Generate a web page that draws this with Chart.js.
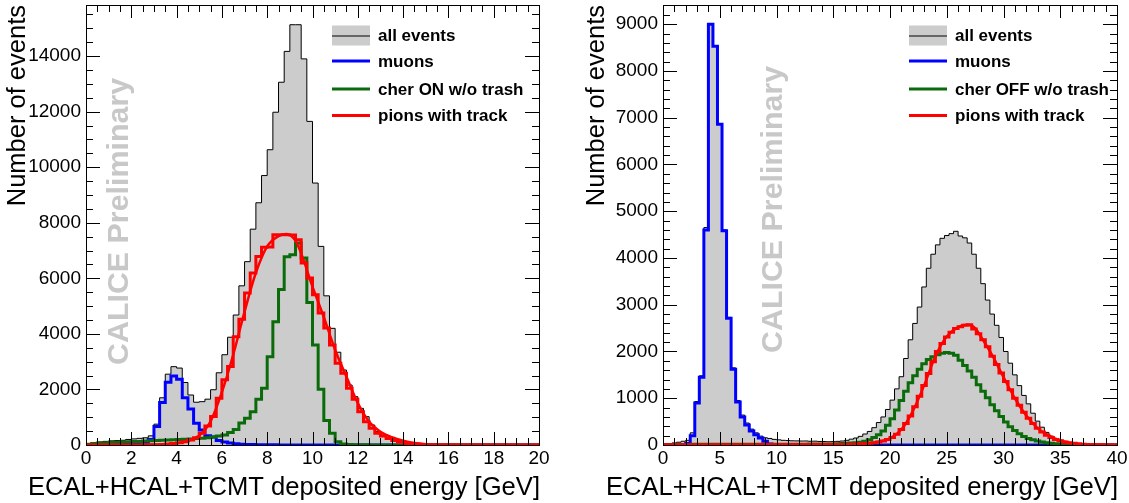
<!DOCTYPE html>
<html>
<head>
<meta charset="utf-8">
<title>ECAL+HCAL+TCMT deposited energy</title>
<script src="https://cdn.jsdelivr.net/npm/chart.js@4.4.1/dist/chart.umd.min.js"></script>
<style>
  html, body { margin: 0; padding: 0; background: #fff; }
  #wrap { position: relative; width: 1129px; height: 503px; }
  #left { position: absolute; left: 0; top: 0; }
  #right { position: absolute; left: 564px; top: 0; }
</style>
</head>
<body>
<div id="wrap">
  <canvas id="left" width="564" height="503"></canvas>
  <canvas id="right" width="565" height="503"></canvas>
</div>
<script>
// left panel: 0.25 GeV bins from 0 to 20 GeV
const binWidthLeft = 0.25;
const allLeft = [
  40, 70, 110, 130, 150, 160, 170, 200,
  220, 240, 260, 330, 750, 1700, 2550, 2820,
  2770, 2250, 1800, 1540, 1560, 1650, 1990, 2600,
  3250, 3880, 4680, 5730, 6600, 7770, 8720, 9700,
  10630, 11980, 13060, 14170, 15130, 15130, 13900, 11650,
  9430, 7150, 5370, 4200, 3340, 2700, 2160, 1740,
  1320, 1020, 720, 480, 360, 230, 160, 110,
  80, 60, 45, 35, 25, 20, 15, 10,
  8, 6, 5, 4, 3, 3, 2, 2,
  1, 1, 0, 0, 0, 0, 0, 0
];
const muonsLeft = [
  10, 15, 20, 25, 30, 30, 35, 40,
  45, 55, 80, 200, 670, 1530, 2260, 2480,
  2370, 1700, 1300, 780, 540, 330, 290, 160,
  110, 70, 45, 30, 20, 15, 10, 8,
  6, 5, 4, 3, 3, 2, 2, 1,
  1, 1, 0, 0, 0, 0, 0, 0,
  0, 0, 0, 0, 0, 0, 0, 0,
  0, 0, 0, 0, 0, 0, 0, 0,
  0, 0, 0, 0, 0, 0, 0, 0,
  0, 0, 0, 0, 0, 0, 0, 0
];
const cherOnLeft = [
  30, 50, 70, 80, 90, 100, 105, 115,
  125, 130, 140, 150, 160, 170, 180, 185,
  195, 205, 215, 230, 245, 260, 290, 320,
  360, 450, 560, 790, 960, 1200, 1650, 2040,
  3180, 4440, 5600, 6780, 6850, 7270, 6730, 5130,
  3600, 2010, 880, 420, 120, 40, 20, 10,
  8, 5, 3, 2, 1, 1, 0, 0,
  0, 0, 0, 0, 0, 0, 0, 0,
  0, 0, 0, 0, 0, 0, 0, 0,
  0, 0, 0, 0, 0, 0, 0, 0
];
const pionsLeft = [
  0, 0, 0, 0, 0, 0, 0, 0,
  2, 3, 5, 8, 10, 20, 35, 55,
  80, 120, 180, 260, 420, 680, 1030, 1680,
  2350, 2830, 3900, 4530, 5470, 6190, 6790, 7120,
  7130, 7570, 7570, 7570, 7560, 7390, 6550, 6010,
  5410, 4750, 4210, 3600, 2940, 2580, 2040, 1650,
  1200, 840, 600, 420, 320, 230, 160, 110,
  60, 40, 25, 15, 10, 6, 4, 3,
  2, 1, 1, 0, 0, 0, 0, 0,
  0, 0, 0, 0, 0, 0, 0, 0
];
const fitLeftE = [0, 2, 3, 3.5, 4, 4.5, 5, 5.5, 6, 6.5, 7, 7.5, 8, 8.5, 8.85, 9.25, 9.5, 10, 10.5, 11, 11.5, 12, 12.5, 13, 13.5, 14, 14.5, 15, 16, 17, 20];
const fitLeftN = [0, 2, 5, 20, 60, 140, 340, 850, 1900, 3250, 4800, 6200, 7150, 7520, 7600, 7350, 6900, 5700, 4600, 3420, 2460, 1510, 840, 480, 280, 150, 70, 30, 5, 0, 0];
const xTicksLeft = [0, 2, 4, 6, 8, 10, 12, 14, 16, 18, 20];
const yTicksLeft = [0, 2000, 4000, 6000, 8000, 10000, 12000, 14000];

// right panel: 0.4 GeV bins from 0 to 40 GeV
const binWidthRight = 0.4;
const allRight = [
  20, 30, 45, 60, 80, 100, 260, 930, 1480, 4650,
  9000, 8540, 6870, 4600, 2730, 1650, 950, 640, 470, 340,
  260, 190, 155, 140, 120, 110, 100, 95, 90, 88,
  85, 86, 80, 82, 76, 74, 70, 72, 78, 85,
  100, 125, 150, 185, 235, 290, 370, 480, 600, 760,
  960, 1200, 1460, 1850, 2250, 2600, 2950, 3380, 3780, 4080,
  4280, 4420, 4480, 4520, 4570, 4470, 4430, 4320, 4080, 3780,
  3450, 3100, 2800, 2560, 2300, 2000, 1750, 1500, 1270, 1060,
  880, 680, 510, 380, 270, 190, 130, 90, 65, 45,
  35, 25, 18, 12, 8, 5, 3, 2, 1, 0
];
const muonsRight = [
  0, 0, 0, 0, 5, 30, 200, 900, 1450, 4600,
  9000, 8530, 6860, 4580, 2710, 1620, 920, 600, 430, 300,
  220, 150, 80, 20, 5, 0, 0, 0, 0, 0,
  0, 0, 0, 0, 0, 0, 0, 0, 0, 0,
  0, 0, 0, 0, 0, 0, 0, 0, 0, 0,
  0, 0, 0, 0, 0, 0, 0, 0, 0, 0,
  0, 0, 0, 0, 0, 0, 0, 0, 0, 0,
  0, 0, 0, 0, 0, 0, 0, 0, 0, 0,
  0, 0, 0, 0, 0, 0, 0, 0, 0, 0,
  0, 0, 0, 0, 0, 0, 0, 0, 0, 0
];
const cherOffRight = [
  5, 8, 10, 10, 12, 12, 14, 15, 15, 16,
  16, 15, 16, 15, 14, 15, 16, 15, 14, 15,
  15, 14, 15, 16, 15, 15, 16, 17, 16, 17,
  18, 18, 19, 20, 20, 21, 22, 24, 26, 30,
  35, 42, 50, 60, 80, 110, 160, 220, 300, 420,
  560, 750, 950, 1150, 1330, 1480, 1620, 1740, 1830, 1890,
  1930, 1960, 1980, 1960, 1920, 1810, 1700, 1580, 1450, 1290,
  1150, 1010, 860, 730, 610, 490, 390, 310, 240, 180,
  140, 110, 85, 65, 50, 38, 28, 20, 15, 10,
  7, 5, 3, 2, 1, 1, 1, 0, 0, 0
];
const pionsRight = [
  3, 4, 4, 5, 5, 5, 6, 6, 6, 6,
  7, 7, 7, 7, 8, 8, 8, 8, 8, 8,
  8, 9, 9, 9, 9, 9, 10, 10, 10, 10,
  10, 10, 10, 11, 11, 11, 11, 11, 12, 12,
  12, 15, 18, 22, 28, 36, 46, 62, 85, 115,
  160, 230, 330, 460, 620, 820, 1040, 1270, 1530, 1780,
  2000, 2170, 2310, 2410, 2490, 2530, 2560, 2570, 2480, 2380,
  2250, 2100, 1900, 1720, 1540, 1360, 1180, 1000, 850, 700,
  570, 460, 360, 280, 210, 160, 120, 90, 65, 48,
  35, 25, 17, 12, 8, 5, 3, 2, 1, 0
];
const fitRightE = [0, 14, 16, 18, 19, 20, 21, 22, 23, 24, 25, 26, 26.8, 27.5, 28, 29, 30, 31, 32, 33, 34, 35, 36, 37, 38, 40];
const fitRightN = [0, 5, 12, 35, 70, 140, 330, 720, 1270, 1900, 2320, 2520, 2570, 2500, 2320, 1920, 1450, 1000, 630, 360, 200, 95, 40, 15, 5, 0];
const xTicksRight = [0, 5, 10, 15, 20, 25, 30, 35, 40];
const yTicksRight = [0, 1000, 2000, 3000, 4000, 5000, 6000, 7000, 8000, 9000];

const legendLeft = ["all events", "muons", "cher ON w/o trash", "pions with track"];
const legendRight = ["all events", "muons", "cher OFF w/o trash", "pions with track"];
const yTitle = "Number of events";
const xTitle = "ECAL+HCAL+TCMT deposited energy [GeV]";
const watermark = "CALICE Preliminary";

const FONT = '"Liberation Sans", Arial, Helvetica, sans-serif';
const GRAY = "rgb(204,204,204)";
const BLUE = "#0000ff";
const GREEN = "#0b6b0b";
const RED = "#ff0000";

Chart.defaults.font.family = FONT;
Chart.defaults.color = "#000";

// histogram outline: one point per left bin edge plus the closing edge
function steps(width, counts) {
  const pts = counts.map((c, i) => ({ x: i * width, y: c }));
  pts.push({ x: counts.length * width, y: counts[counts.length - 1] });
  return pts;
}

function histSet(label, width, counts, color, lw, order, fill) {
  return {
    label,
    data: steps(width, counts),
    stepped: "before",
    borderColor: color,
    borderWidth: lw,
    borderJoinStyle: "miter",
    backgroundColor: fill || "transparent",
    fill: fill ? "origin" : false,
    pointRadius: 0,
    order
  };
}

function fitSet(xs, ys) {
  return {
    label: "fit",
    data: xs.map((x, i) => ({ x, y: ys[i] })),
    borderColor: RED,
    borderWidth: 2.5,
    cubicInterpolationMode: "monotone",
    fill: false,
    pointRadius: 0,
    order: 0
  };
}

const rootStyle = {
  id: "rootStyle",
  beforeDatasetsDraw(chart, args, opts) {
    const { ctx, chartArea: a } = chart;
    ctx.save();
    ctx.translate(a.left + opts.markX, opts.markY);
    ctx.rotate(-Math.PI / 2);
    ctx.fillStyle = "rgb(200,200,200)";
    ctx.font = "bold 30.4px " + FONT;
    ctx.textBaseline = "alphabetic";
    ctx.fillText(watermark, 0, 0);
    ctx.restore();
  },
  afterDraw(chart, args, opts) {
    const { ctx, chartArea: a, scales: { x, y } } = chart;
    ctx.save();
    ctx.strokeStyle = "#000";
    ctx.lineWidth = 1;
    ctx.beginPath();
    const nx = Math.round((x.max - x.min) / opts.xMinor);
    for (let i = 0; i <= nx; i++) {
      const px = Math.round(x.getPixelForValue(x.min + i * opts.xMinor)) + 0.5;
      const len = i % opts.xEvery === 0 ? 13 : 7;
      ctx.moveTo(px, a.bottom); ctx.lineTo(px, a.bottom - len);
      ctx.moveTo(px, a.top); ctx.lineTo(px, a.top + len);
    }
    const ny = Math.floor((y.max - y.min) / opts.yMinor);
    for (let i = 0; i <= ny; i++) {
      const py = Math.round(y.getPixelForValue(y.min + i * opts.yMinor)) + 0.5;
      const len = i % opts.yEvery === 0 ? 14 : 7;
      ctx.moveTo(a.left, py); ctx.lineTo(a.left + len, py);
      ctx.moveTo(a.right, py); ctx.lineTo(a.right - len, py);
    }
    ctx.stroke();
    ctx.strokeRect(Math.round(a.left) + 0.5, Math.round(a.top) + 0.5,
      Math.round(a.right - a.left), Math.round(a.bottom - a.top));

    // x axis title, right aligned to the frame and wider than the plot area
    ctx.fillStyle = "#000";
    ctx.font = "25.6px " + FONT;
    ctx.textAlign = "right";
    ctx.textBaseline = "middle";
    ctx.fillText(xTitle, a.right + 1, 488);
    ctx.textAlign = "left";

    // legend
    const lx = a.left + 246;
    const rows = [35.5, 61, 89, 115.5];
    const colors = [null, BLUE, GREEN, RED];
    opts.labels.forEach((label, i) => {
      const ry = rows[i];
      if (i === 0) {
        ctx.fillStyle = GRAY;
        ctx.fillRect(lx, ry - 10, 38, 20);
        ctx.lineWidth = 1;
        ctx.strokeStyle = "#000";
        ctx.beginPath(); ctx.moveTo(lx, ry + 0.5); ctx.lineTo(lx + 38, ry + 0.5); ctx.stroke();
      } else {
        ctx.lineWidth = 3;
        ctx.strokeStyle = colors[i];
        ctx.beginPath(); ctx.moveTo(lx, ry); ctx.lineTo(lx + 38, ry); ctx.stroke();
      }
      ctx.fillStyle = "#000";
      ctx.font = "bold 17px " + FONT;
      ctx.textBaseline = "middle";
      ctx.fillText(label, lx + 46, ry + 1);
    });
    ctx.restore();
  }
};

function makeChart(id, cfg) {
  return new Chart(document.getElementById(id), {
    type: "line",
    data: {
      datasets: [
        fitSet(cfg.fitE, cfg.fitN),
        histSet("pions with track", cfg.bw, cfg.pions, RED, 3, 1),
        histSet(cfg.labels[2], cfg.bw, cfg.cher, GREEN, 3, 2),
        histSet("muons", cfg.bw, cfg.muons, BLUE, 3, 3),
        histSet("all events", cfg.bw, cfg.all, "#000", 1, 4, GRAY)
      ]
    },
    options: {
      responsive: false,
      animation: false,
      devicePixelRatio: 1,
      events: [],
      layout: { padding: { top: 5, right: cfg.padRight, bottom: 0, left: cfg.padLeft } },
      plugins: {
        legend: { display: false },
        tooltip: { enabled: false },
        rootStyle: {
          labels: cfg.labels, markX: cfg.markX, markY: cfg.markY,
          xMinor: cfg.xMinor, xEvery: cfg.xEvery, yMinor: cfg.yMinor, yEvery: cfg.yEvery
        }
      },
      scales: {
        x: {
          type: "linear",
          min: 0,
          max: cfg.xMax,
          afterBuildTicks: s => { s.ticks = cfg.xTicks.map(v => ({ value: v })); },
          afterFit: s => { s.height = 58; s.paddingLeft = 0; s.paddingRight = 0; },
          grid: { display: false, drawTicks: false },
          border: { display: false },
          ticks: { padding: 2, maxRotation: 0, autoSkip: false, color: "#000", font: { size: 19 }, callback: v => String(v) },
          title: { display: false }
        },
        y: {
          min: 0,
          max: cfg.yMax,
          afterBuildTicks: s => { s.ticks = cfg.yTicks.map(v => ({ value: v })); },
          afterFit: s => { s.width = cfg.yWidth; s.paddingTop = 0; s.paddingBottom = 0; },
          grid: { display: false, drawTicks: false },
          border: { display: false },
          ticks: { padding: 5, autoSkip: false, color: "#000", font: { size: 19 }, callback: v => String(v) },
          title: { display: true, text: yTitle, align: "end", color: "#000", font: { size: 25.5 }, padding: { top: 3, bottom: 0 } }
        }
      }
    },
    plugins: [rootStyle]
  });
}

makeChart("left", {
  bw: binWidthLeft, all: allLeft, muons: muonsLeft, cher: cherOnLeft, pions: pionsLeft,
  fitE: fitLeftE, fitN: fitLeftN, labels: legendLeft, xTicks: xTicksLeft, yTicks: yTicksLeft,
  xMax: 20, xMinor: 0.5, xEvery: 4,
  yMax: 15840, yMinor: 500, yEvery: 4,
  yWidth: 86, padLeft: 0, padRight: 25, markX: 41.5, markY: 365
});

makeChart("right", {
  bw: binWidthRight, all: allRight, muons: muonsRight, cher: cherOffRight, pions: pionsRight,
  fitE: fitRightE, fitN: fitRightN, labels: legendRight, xTicks: xTicksRight, yTicks: yTicksRight,
  xMax: 40, xMinor: 1, xEvery: 5,
  yMax: 9410, yMinor: 200, yEvery: 5,
  yWidth: 84, padLeft: 15, padRight: 12, markX: 119, markY: 353
});
</script>
</body>
</html>
